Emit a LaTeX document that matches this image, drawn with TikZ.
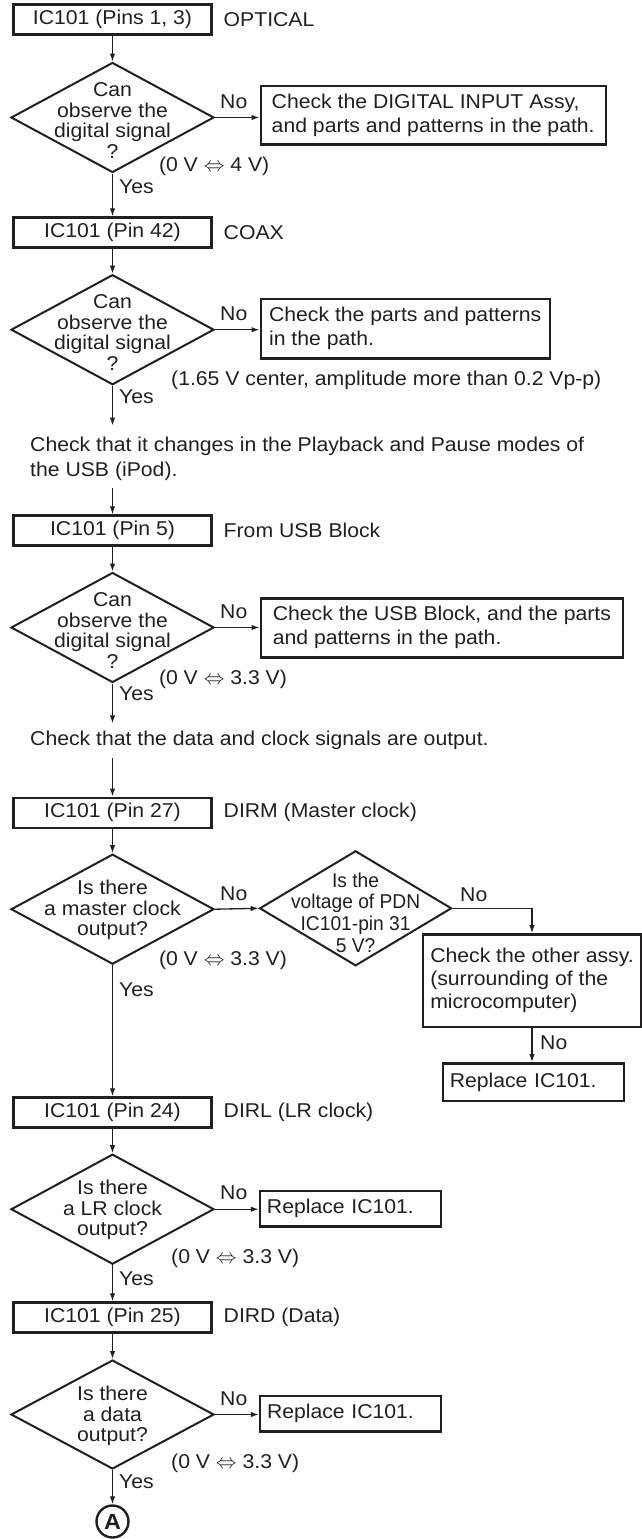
\documentclass[tikz,border=0pt]{standalone}
\usepackage{fontspec}
\setmainfont{Liberation Sans}[FakeStretch=1.06]
\newfontfamily\narrowfont{Liberation Sans}[FakeStretch=0.96]
\usetikzlibrary{shapes.geometric,arrows.meta}
\definecolor{ink}{HTML}{231F20}
\newcommand\lrarr{{\fontsize{20}{20}\selectfont$\Leftrightarrow$}}
\begin{document}
\begin{tikzpicture}[x=1pt,y=-1pt,
  every node/.style={text=ink, font=\fontsize{20}{24}\selectfont},
  icbox/.style={draw=ink, line width=2.4pt, minimum width=198pt, minimum height=30pt, inner sep=0pt},
  rbox/.style={draw=ink, line width=2.4pt, inner xsep=7pt, inner ysep=0pt, align=left},
  dia/.style={draw=ink, diamond, line width=2pt, minimum width=203pt, minimum height=110pt, inner sep=0pt},
  dtext/.style={align=center, inner sep=0pt, font=\fontsize{20}{20.5}\selectfont},
  lbl/.style={anchor=west, inner sep=0pt},
  conn/.style={draw=ink, line width=1.3pt},
  arr/.style={conn, -{Latex[length=8pt,width=5.5pt]}},
]
\useasboundingbox (0,0) rectangle (642,1539);

% ---- block 1
\node[icbox] (B1) at (112.5,19.5) {IC101 (Pins 1, 3)};
\node[lbl] (L1) at (223.5,19.5) {OPTICAL};
\node[dia] (D1) at (112.5,117.5) {};
\node[dtext] (D1t) at (112.5,120.5) {Can\\observe the\\digital signal\\?};
\node[lbl] (N1) at (220,102) {No};
\node[rbox, minimum width=345pt, minimum height=58.3pt] (R1) at (433.2,115.2) {Check the DIGITAL INPUT Assy,\\and parts and patterns in the path.};
\node[lbl] (V1) at (158.8,166) {(0 V \lrarr{} 4 V)};
\node[lbl] (Y1) at (119,187) {Yes};

% ---- block 2
\node[icbox] (B2) at (112.5,232.5) {IC101 (Pin 42)};
\node[lbl] (L2) at (223.5,232.5) {COAX};
\node[dia] (D2) at (112.5,329.7) {};
\node[dtext] (D2t) at (112.5,332.7) {Can\\observe the\\digital signal\\?};
\node[lbl] (N2) at (220,313.7) {No};
\node[rbox, minimum width=289pt, minimum height=59.3pt] (R2) at (405.2,328.7) {Check the parts and patterns\\in the path.};
\node[lbl] (V2) at (171,380) {(1.65 V center, amplitude more than 0.2 Vp-p)};
\node[lbl] (Y2) at (119,397) {Yes};
\coordinate (c1) at (112.5,425.5);
\node[anchor=west, align=left, inner sep=0pt, font=\fontsize{20}{25}\selectfont] (T1) at (30,459) {Check that it changes in the Playback and Pause modes of\\the USB (iPod).};
\coordinate (c2) at (112.5,488);

% ---- block 3
\node[icbox] (B3) at (112.5,530.5) {IC101 (Pin 5)};
\node[lbl] (L3) at (223.5,530.5) {From USB Block};
\node[dia] (D3) at (112.5,627.5) {};
\node[dtext] (D3t) at (112.5,630.5) {Can\\observe the\\digital signal\\?};
\node[lbl] (N3) at (220,611.5) {No};
\node[rbox, minimum width=362.3pt, minimum height=59pt] (R3) at (441.9,627.8) {Check the USB Block, and the parts\\and patterns in the path.};
\node[lbl] (V3) at (158.8,679.3) {(0 V \lrarr{} 3.3 V)};
\node[lbl] (Y3) at (119,694) {Yes};
\coordinate (c3) at (112.5,723.3);
\node[lbl] (T2) at (30,740.7) {Check that the data and clock signals are output.};
\coordinate (c4) at (112.5,758.3);

% ---- block 4
\node[icbox] (B4) at (112.5,812.7) {IC101 (Pin 27)};
\node[lbl] (L4) at (223.5,812.7) {DIRM (Master clock)};
\node[dia] (D4) at (112.5,909.2) {};
\node[dtext] (D4t) at (112.5,910) {Is there\\a master clock\\output?};
\node[lbl] (N4) at (220,893.5) {No};
\node[dia, minimum width=192pt, minimum height=115pt] (D5) at (355.6,908.3) {};
\node[dtext, font=\narrowfont\fontsize{20}{21.7}\selectfont] (D5t) at (355.6,912.5) {Is the\\voltage of PDN\\IC101-pin 31\\5 V?};
\node[lbl] (N5) at (460,895) {No};
\node[rbox, minimum width=217pt, minimum height=92.4pt, font=\fontsize{20}{23.3}\selectfont] (R4) at (532,980.5) {Check the other assy.\\(surrounding of the\\microcomputer)};
\node[lbl] (N6) at (540,1043) {No};
\node[rbox, text width=167.5pt, minimum height=37.4pt] (R5) at (533.5,1082) {Replace IC101.};
\node[lbl] (V4) at (158.8,960) {(0 V \lrarr{} 3.3 V)};
\node[lbl] (Y4) at (119,990) {Yes};

% ---- block 5
\node[icbox] (B5) at (112.5,1112.5) {IC101 (Pin 24)};
\node[lbl] (L5) at (223.5,1112.5) {DIRL (LR clock)};
\node[dia] (D6) at (112.5,1209.2) {};
\node[dtext] (D6t) at (112.5,1210) {Is there\\a LR clock\\output?};
\node[lbl] (N7) at (220,1193.2) {No};
\node[rbox, text width=167.3pt, minimum height=35.7pt] (R6) at (350.6,1208.8) {Replace IC101.};
\node[lbl] (V5) at (171,1258.3) {(0 V \lrarr{} 3.3 V)};
\node[lbl] (Y5) at (119,1278.3) {Yes};

% ---- block 6
\node[icbox] (B6) at (112.5,1317.5) {IC101 (Pin 25)};
\node[lbl] (L6) at (223.5,1317.5) {DIRD (Data)};
\node[dia, minimum height=109pt] (D7) at (112.5,1414.5) {};
\node[dtext] (D7t) at (112.5,1416) {Is there\\a data\\output?};
\node[lbl] (N8) at (220,1398.5) {No};
\node[rbox, text width=166.8pt, minimum height=35.7pt] (R7) at (350.4,1413.8) {Replace IC101.};
\node[lbl] (V6) at (171,1463.3) {(0 V \lrarr{} 3.3 V)};
\node[lbl] (Y6) at (119,1481.7) {Yes};
\node[circle, draw=ink, line width=2.4pt, minimum size=32pt, inner sep=0pt, font=\fontsize{22}{22}\selectfont\bfseries] (A) at (112.5,1521.5) {A};

% ---- connectors
\draw[arr] (B1.south) -- (D1.north);
\draw[arr] (D1.east) -- (D1.east -| R1.west);
\draw[arr] (D1.south) -- (B2.north);
\draw[arr] (B2.south) -- (D2.north);
\draw[arr] (D2.east) -- (D2.east -| R2.west);
\draw[arr] (D2.south) -- (c1);
\draw[arr] (c2) -- (B3.north);
\draw[arr] (B3.south) -- (D3.north);
\draw[arr] (D3.east) -- (D3.east -| R3.west);
\draw[arr] (D3.south) -- (c3);
\draw[arr] (c4) -- (B4.north);
\draw[arr] (B4.south) -- (D4.north);
\draw[arr] (D4.east) -- (D5.west);
\draw[arr] (D5.east) -| (R4.north);
\draw[arr] (R4.south) -- (R4.south |- R5.north);
\draw[arr] (D4.south) -- (B5.north);
\draw[arr] (B5.south) -- (D6.north);
\draw[arr] (D6.east) -- (D6.east -| R6.west);
\draw[arr] (D6.south) -- (B6.north);
\draw[arr] (B6.south) -- (D7.north);
\draw[arr] (D7.east) -- (D7.east -| R7.west);
\draw[arr] (D7.south) -- (A.north);
\end{tikzpicture}
\end{document}
